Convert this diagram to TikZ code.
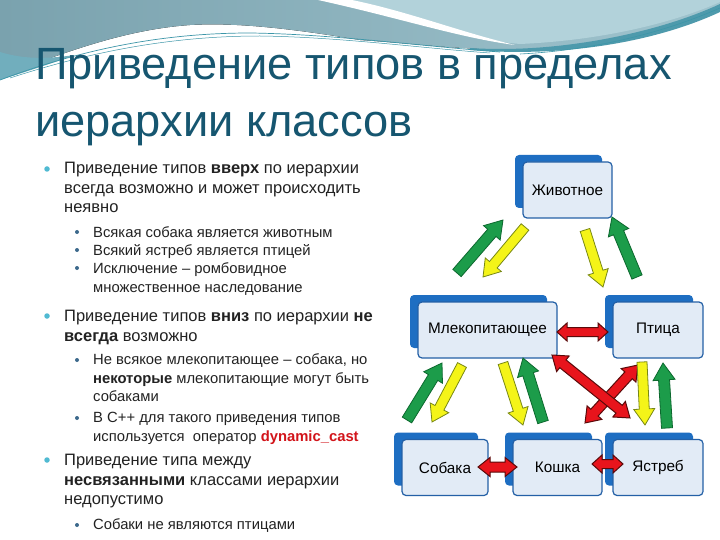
\documentclass[tikz,border=0pt]{standalone}
\usepackage{fontspec}
\setmainfont{Liberation Sans}
\usetikzlibrary{calc}
\definecolor{decoL}{RGB}{122,162,174}
\definecolor{decoR}{RGB}{160,196,206}
\definecolor{decoLight}{RGB}{178,210,218}
\definecolor{decoTeal}{RGB}{78,154,172}
\definecolor{decoLine}{RGB}{60,150,168}
\definecolor{titlec}{RGB}{22,86,112}
\definecolor{txt}{RGB}{34,34,34}
\definecolor{bulA}{RGB}{80,186,210}
\definecolor{bulB}{RGB}{60,105,140}
\definecolor{castred}{RGB}{210,20,26}
\definecolor{boxback}{RGB}{30,110,194}
\definecolor{boxedge}{RGB}{36,96,166}
\definecolor{boxfill}{RGB}{226,235,246}
\definecolor{grF}{RGB}{28,156,74}
\definecolor{grE}{RGB}{12,104,46}
\definecolor{yeF}{RGB}{244,244,24}
\definecolor{yeE}{RGB}{120,136,20}
\definecolor{reF}{RGB}{232,20,28}
\definecolor{reE}{RGB}{90,10,10}

\newcommand\blkarrow[6]{%
  \path (#1); \pgfgetlastxy{\bxa}{\bya}%
  \path (#2); \pgfgetlastxy{\bxb}{\byb}%
  \pgfmathsetmacro\bang{atan2(\byb-\bya,\bxb-\bxa)}%
  \pgfmathsetmacro\blen{veclen(\bxb-\bxa,\byb-\bya)}%
  \draw[#3, shift={(\bxa,\bya)}, rotate=\bang]
    (0,#4) -- ({\blen-#6},#4) -- ({\blen-#6},#5) -- (\blen,0)
    -- ({\blen-#6},-#5) -- ({\blen-#6},-#4) -- (0,-#4) -- cycle;}
\newcommand\dblarrow[6]{%
  \path (#1); \pgfgetlastxy{\bxa}{\bya}%
  \path (#2); \pgfgetlastxy{\bxb}{\byb}%
  \pgfmathsetmacro\bang{atan2(\byb-\bya,\bxb-\bxa)}%
  \pgfmathsetmacro\blen{veclen(\bxb-\bxa,\byb-\bya)}%
  \draw[#3, shift={(\bxa,\bya)}, rotate=\bang]
    (0,0) -- (#6,#5) -- (#6,#4) -- ({\blen-#6},#4) -- ({\blen-#6},#5) -- (\blen,0)
    -- ({\blen-#6},-#5) -- ({\blen-#6},-#4) -- (#6,-#4) -- (#6,-#5) -- cycle;}
\newcommand\clsbox[5]{%
  \fill[boxback, rounded corners=4pt] ({#2-#4/2-8},{#3-35}) rectangle ({#2+#4/2-10},{#3+18});
  \node[clsfront, minimum width=#4] (#1) at (#2,#3) {#5};}

\begin{document}
\begin{tikzpicture}[x=1pt,y=-1pt,
  titlestyle/.style={anchor=base west, inner sep=0, text=titlec, font=\fontsize{45.2}{50}\selectfont},
  lone/.style={anchor=base west, inner sep=0, text=txt, font=\fontsize{16.5}{19}\selectfont},
  ltwo/.style={anchor=base west, inner sep=0, text=txt, font=\fontsize{14.8}{17}\selectfont},
  bone/.style={circle, fill=bulA, inner sep=0, minimum size=5.5pt},
  btwo/.style={circle, fill=bulB, inner sep=0, minimum size=4pt},
  clsfront/.style={draw=boxedge, line width=1.2pt, fill=boxfill, rounded corners=4pt,
    minimum height=56pt, inner sep=0, text=black, font=\fontsize{15.3}{18}\selectfont},
  grn/.style={fill=grF, draw=grE, line width=0.8pt, line join=miter},
  yel/.style={fill=yeF, draw=yeE, line width=0.8pt, line join=miter},
  red/.style={fill=reF, draw=reE, line width=1pt, line join=miter}]
\useasboundingbox (0,0) rectangle (720,540);
\fill[white] (0,0) rectangle (720,540);

% ---- top decoration
\fill[left color=decoL, right color=decoR]
  (0,0) -- (720,0) -- (720,4) .. controls (680,30) and (600,50) .. (530,50)
  .. controls (460,50) and (420,44) .. (360,40) .. controls (300,30) and (240,22) .. (190,25)
  .. controls (120,30) and (60,55) .. (0,76) -- cycle;
\fill[decoLight] (350,0) -- (720,0) -- (720,2) .. controls (680,20) and (610,40) .. (520,44)
  .. controls (470,40) and (420,20) .. (350,0) -- cycle;
\fill[white] (318,0) .. controls (400,18) and (460,38) .. (515,45)
  .. controls (460,32) and (410,12) .. (352,0) -- cycle;
\fill[decoTeal] (470,48) .. controls (560,54) and (660,32) .. (720,4) -- (720,12)
  .. controls (660,40) and (570,58) .. (470,50) -- cycle;
\fill[decoTeal!80] (0,52) .. controls (20,58) and (40,60) .. (75,55)
  .. controls (50,64) and (25,72) .. (0,80) -- cycle;
\draw[decoLine, line width=0.7pt] (0,80) .. controls (80,50) and (160,33) .. (250,33)
  .. controls (330,34) and (420,46) .. (500,52);
\draw[decoLine, line width=0.5pt] (10,78) .. controls (90,52) and (170,36) .. (260,36)
  .. controls (340,37) and (420,48) .. (490,53);
\draw[decoLine, line width=0.6pt] (520,54) .. controls (600,50) and (670,30) .. (720,8);

% ---- title
\node[titlestyle] (t1) at (35,80) {Приведение типов в пределах};
\node[titlestyle] (t2) at (35,137) {иерархии классов};

% ---- bullet text
\node[bone] (p1) at (47,169) {};
\node[lone] (p1a) at (64,174) {Приведение типов \textbf{вверх} по иерархии};
\node[lone] (p1b) at (64,194) {всегда возможно и может происходить};
\node[lone] (p1c) at (64,213) {неявно};
\node[btwo] (q1) at (77,232) {};
\node[ltwo] (q1a) at (93,237) {Всякая собака является животным};
\node[btwo] (q2) at (77,250) {};
\node[ltwo] (q2a) at (93,255) {Всякий ястреб является птицей};
\node[btwo] (q3) at (77,268) {};
\node[ltwo] (q3a) at (93,273) {Исключение – ромбовидное};
\node[ltwo] (q3b) at (93,292) {множественное наследование};

\node[bone] (p2) at (47,316) {};
\node[lone] (p2a) at (64,321) {Приведение типов \textbf{вниз} по иерархии \textbf{не}};
\node[lone] (p2b) at (64,341) {\textbf{всегда} возможно};
\node[btwo] (q4) at (77,360) {};
\node[ltwo] (q4a) at (93,364) {Не всякое млекопитающее – собака, но};
\node[ltwo] (q4b) at (93,383) {\textbf{некоторые} млекопитающие могут быть};
\node[ltwo] (q4c) at (93,401) {собаками};
\node[btwo] (q5) at (77,418) {};
\node[ltwo] (q5a) at (93,422) {В C++ для такого приведения типов};
\node[ltwo] (q5b) at (93,441) {используется \ оператор \textcolor{castred}{\textbf{dynamic\_cast}}};

\node[bone] (p3) at (47,460) {};
\node[lone] (p3a) at (64,465) {Приведение типа между};
\node[lone] (p3b) at (64,485) {\textbf{несвязанными} классами иерархии};
\node[lone] (p3c) at (64,504) {недопустимо};
\node[btwo] (q6) at (77,525) {};
\node[ltwo] (q6a) at (93,529) {Собаки не являются птицами};

% ---- class boxes
\clsbox{ani}{567.5}{190}{89}{Животное}
\clsbox{mam}{487.5}{330}{139}{Млекопитающее}
\clsbox{bird}{658}{330}{90}{Птица}
\clsbox{dog}{445}{467.5}{86}{Собака}
\clsbox{cat}{557.5}{467.5}{89}{Кошка}
\clsbox{hawk}{658}{467.5}{90}{Ястреб}

% ---- arrow end points
\coordinate (g1s) at (457,273); \coordinate (g1e) at (503,220);
\coordinate (y1s) at (525,227); \coordinate (y1e) at (483,277);
\coordinate (y2s) at (585,230); \coordinate (y2e) at (603,287);
\coordinate (g2s) at (637,277); \coordinate (g2e) at (612,217);
\coordinate (g3s) at (407,420); \coordinate (g3e) at (442,363);
\coordinate (y3s) at (462,365); \coordinate (y3e) at (432,422);
\coordinate (y4s) at (503,363); \coordinate (y4e) at (523,425);
\coordinate (g4s) at (543,422); \coordinate (g4e) at (523,358);
\coordinate (y5s) at (642,362); \coordinate (y5e) at (645,425);
\coordinate (g5s) at (667,428); \coordinate (g5e) at (663,363);
\coordinate (r1s) at (557,332); \coordinate (r1e) at (608,332);
\coordinate (r2s) at (552,355); \coordinate (r2e) at (630,418);
\coordinate (r3s) at (638,365); \coordinate (r3e) at (585,423);
\coordinate (r4s) at (478,467); \coordinate (r4e) at (517,467);
\coordinate (r5s) at (592,464); \coordinate (r5e) at (623,464);

% ---- arrows
\dblarrow{r1s}{r1e}{red}{4.5}{9}{10}
\dblarrow{r3s}{r3e}{red}{5}{10}{14}
\dblarrow{r2s}{r2e}{red}{5}{10}{14}
\dblarrow{r4s}{r4e}{red}{5}{9.5}{12}
\dblarrow{r5s}{r5e}{red}{4.5}{9}{10}
\blkarrow{y1s}{y1e}{yel}{5}{10.5}{16}
\blkarrow{y2s}{y2e}{yel}{5}{10.5}{16}
\blkarrow{y3s}{y3e}{yel}{5}{10.5}{16}
\blkarrow{y4s}{y4e}{yel}{5}{10.5}{16}
\blkarrow{y5s}{y5e}{yel}{5}{10.5}{16}
\blkarrow{g1s}{g1e}{grn}{5.5}{11}{17}
\blkarrow{g2s}{g2e}{grn}{5.5}{11}{17}
\blkarrow{g3s}{g3e}{grn}{5.5}{11}{17}
\blkarrow{g4s}{g4e}{grn}{5.5}{11}{17}
\blkarrow{g5s}{g5e}{grn}{5.5}{11}{17}
\end{tikzpicture}
\end{document}
